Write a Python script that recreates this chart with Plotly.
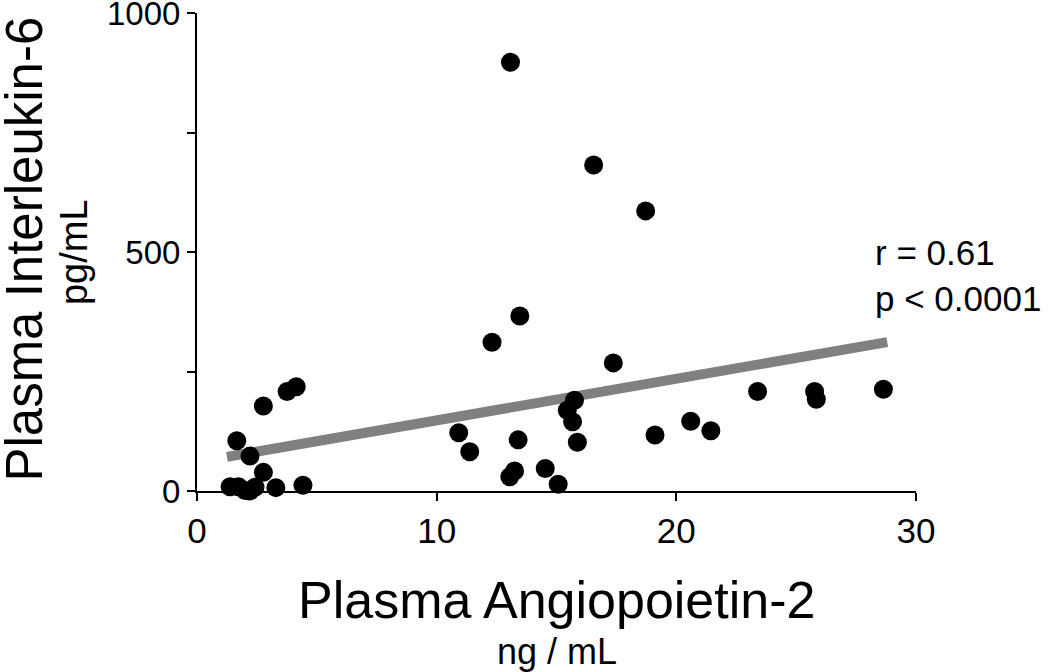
import plotly.graph_objects as go

# Data
ang2 = [13.08, 16.55, 18.72, 13.47, 12.31, 17.37, 28.64, 23.39, 25.77, 25.84,
        15.75, 15.45, 15.67, 15.87, 20.60, 21.44, 19.11, 10.92, 11.38, 13.40,
        13.25, 13.05, 14.53, 15.07,
        4.14, 3.76, 2.77, 1.66, 2.21, 2.77, 4.42, 3.29, 1.38, 1.73, 2.01, 2.42, 2.21]
il6 = [897, 682, 586, 366, 311, 268, 213, 208, 208, 192,
       190, 169, 145, 102, 146, 126, 117, 122, 82, 107,
       42, 30, 47, 14,
       218, 208, 178, 105, 73, 39, 12, 7, 9, 9, 1, 8, 0]

fit_x = [1.25, 28.8]
fit_y = [71.5, 311.5]

x_ticks = [0, 10, 20, 30]
y_ticks = [0, 500, 1000]
y_minor = [250, 750]

FONT = "Liberation Sans, Arial, Helvetica, sans-serif"

fig = go.Figure()
fig.add_trace(go.Scatter(x=fit_x, y=fit_y, mode="lines",
                         line=dict(color="#808080", width=10),
                         hoverinfo="skip", showlegend=False))
fig.add_trace(go.Scatter(x=ang2, y=il6, mode="markers",
                         marker=dict(color="black", size=19, line=dict(width=0)),
                         cliponaxis=False, showlegend=False))

fig.update_layout(
    width=1050, height=672,
    margin=dict(l=197, r=134, t=13, b=181, autoexpand=False),
    plot_bgcolor="white", paper_bgcolor="white",
    font=dict(family=FONT, color="black"),
    showlegend=False,
)
fig.update_xaxes(range=[0, 30], tickvals=x_ticks, ticktext=[str(v) for v in x_ticks],
                 automargin=False,
                 showgrid=False, zeroline=False, showline=True, linecolor="black",
                 linewidth=2, ticks="outside", ticklen=8, tickwidth=2, tickcolor="black",
                 tickfont=dict(size=35, family=FONT, color="black"))
fig.update_yaxes(range=[0, 1000], tickvals=y_ticks, ticktext=[str(v) for v in y_ticks],
                 automargin=False, ticklabeloverflow="allow",
                 showgrid=False, zeroline=False, showline=True, linecolor="black",
                 linewidth=2, ticks="outside", ticklen=8, tickwidth=2, tickcolor="black",
                 tickfont=dict(size=33, family=FONT, color="black"),
                 minor=dict(tickvals=y_minor, ticks="outside", ticklen=8,
                            tickwidth=2, tickcolor="black", showgrid=False))

annotations = [
    dict(text="Plasma Angiopoietin-2", x=0.5, y=-0.228, xref="paper", yref="paper",
         xanchor="center", yanchor="middle", showarrow=False,
         font=dict(size=52, family=FONT, color="black")),
    dict(text="ng / mL", x=0.5, y=-0.335, xref="paper", yref="paper",
         xanchor="center", yanchor="middle", showarrow=False,
         font=dict(size=36, family=FONT, color="black")),
    dict(text="Plasma Interleukin-6", x=-0.240, y=0.506, xref="paper", yref="paper",
         xanchor="center", yanchor="middle", textangle=-90, showarrow=False,
         font=dict(size=51, family=FONT, color="black")),
    dict(text="pg/mL", x=-0.171, y=0.5, xref="paper", yref="paper",
         xanchor="center", yanchor="middle", textangle=-90, showarrow=False,
         font=dict(size=38, family=FONT, color="black")),
    dict(text="r = 0.61<br>p < 0.0001", x=0.94, y=0.45, xref="paper", yref="paper",
         xanchor="left", yanchor="middle", align="left", showarrow=False,
         font=dict(size=35, family=FONT, color="black")),
]
fig.update_layout(annotations=annotations)

fig.write_html("out.html", config={"displayModeBar": False},
               post_script="document.body.style.margin='0';document.body.style.overflow='hidden';")
